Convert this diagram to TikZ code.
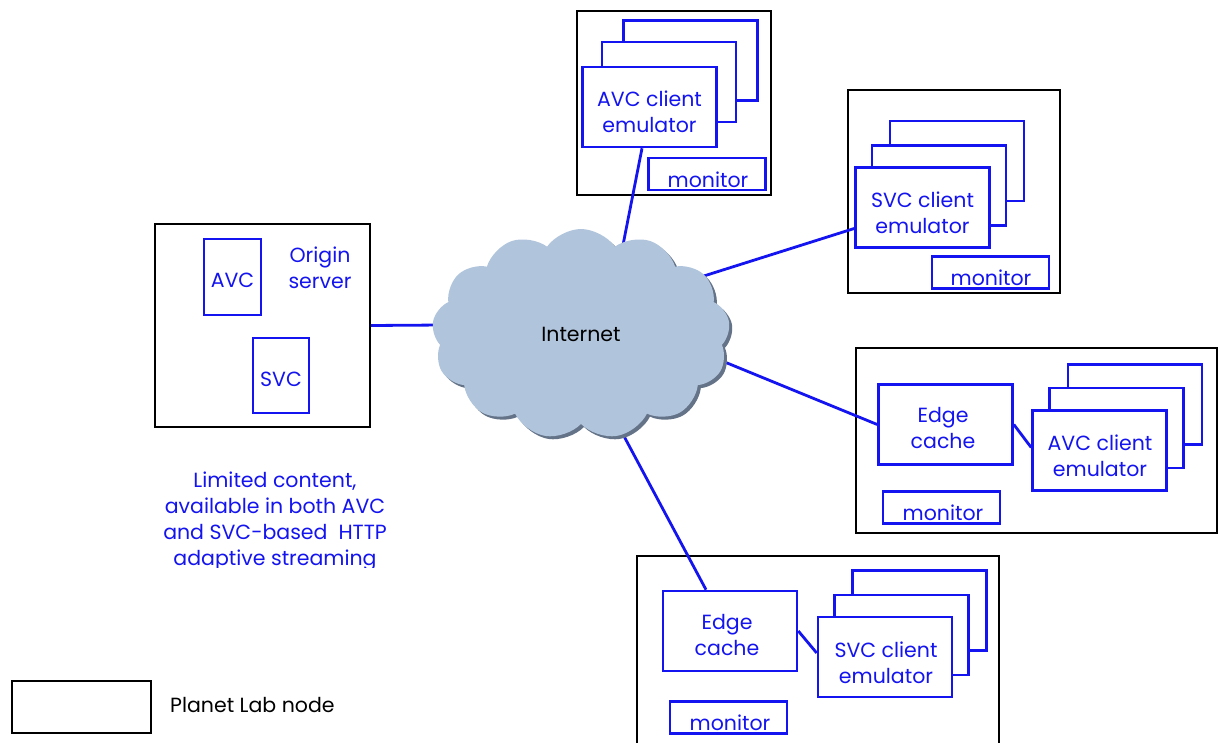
\documentclass[tikz,border=0pt]{standalone}
\usepackage{fontspec}
\setmainfont{Poppins}
\usetikzlibrary{shapes.symbols,shadows,calc}
\definecolor{lb}{RGB}{20,20,240}
\definecolor{cloudfill}{RGB}{176,196,220}
\definecolor{cloudshadow}{RGB}{100,115,135}
\pgfdeclarelayer{background}
\pgfsetlayers{background,main}
\begin{document}
\begin{tikzpicture}[x=1pt,y=-1pt,
  plnode/.style={draw=black, line width=2pt, inner sep=0},
  bbox/.style={draw=lb, line width=2.6pt, fill=white, inner sep=0},
  client/.style={bbox, minimum width=134pt, minimum height=80pt},
  monbox/.style={bbox, minimum width=117pt, minimum height=32pt},
  txt/.style={text=lb, font=\fontsize{20.5}{26}\selectfont, align=center, inner sep=0},
  btxt/.style={text=black, font=\fontsize{20.5}{26}\selectfont, align=center, inner sep=0},
  link/.style={draw=lb, line width=2.8pt}]
\useasboundingbox (0,0) rectangle (1220,743);

\begin{pgfonlayer}{background}
% Planet Lab nodes
\node[plnode, minimum width=194pt, minimum height=184pt] (plavc) at (674,103) {};
\node[plnode, minimum width=212pt, minimum height=203pt] (plsvc) at (954,191.5) {};
\node[plnode, minimum width=215pt, minimum height=203pt] (origin) at (262.5,325.5) {};
\node[plnode, minimum width=361pt, minimum height=185pt] (pledgeavc) at (1036.5,440.5) {};
\node[plnode, minimum width=362pt, minimum height=204pt] (pledgesvc) at (818,658) {};
\node[plnode, minimum width=139pt, minimum height=52pt] (legend) at (81.5,707) {};
\end{pgfonlayer}

% Cloud
\node[cloud, cloud puffs=13, cloud puff arc=110, aspect=1.4, inner sep=0,
  minimum width=298pt, minimum height=210pt, fill=cloudfill, draw=none,
  drop shadow={fill=cloudshadow, shadow xshift=3pt, shadow yshift=-3pt, opacity=1},
  font=\fontsize{20.5}{26}\selectfont] (cloud) at (581,334) {Internet};

% Top AVC client cluster
\node[client] (avcA3) at (690.5,60.5) {};
\node[client] (avcA2) at (669,82) {};
\node[client] (avcA1) at (649.5,107) {};
\node[txt] (avcA1t) at (649.5,112) {AVC client\\emulator};
\node[monbox] (monA) at (707,174) {};
\node[txt] (monAt) at (708,180) {monitor};

% Top SVC client cluster
\node[client] (svcB3) at (957,161) {};
\node[client] (svcB2) at (939,185.5) {};
\node[client] (svcB1) at (922.5,207.5) {};
\node[txt] (svcB1t) at (922.5,213) {SVC client\\emulator};
\node[monbox] (monB) at (990.5,272.5) {};
\node[txt] (monBt) at (991,278) {monitor};

% Origin server
\node[bbox, minimum width=57pt, minimum height=76pt] (avcbox) at (232.5,277) {};
\node[txt] (avcboxt) at (232.5,280) {AVC};
\node[bbox, minimum width=56pt, minimum height=75pt] (svcbox) at (281,375.5) {};
\node[txt] (svcboxt) at (281,379) {SVC};
\node[txt] (origint) at (320,268) {Origin\\server};

% Edge AVC
\node[client] (ecA) at (945.5,424.5) {};
\node[txt] (ecAt) at (943,428) {Edge\\cache};
\node[client] (avcC3) at (1135,404.5) {};
\node[client] (avcC2) at (1116.5,428) {};
\node[client] (avcC1) at (1099.5,450.5) {};
\node[txt] (avcC1t) at (1100,456) {AVC client\\emulator};
\node[monbox] (monC) at (941.5,507.5) {};
\node[txt] (monCt) at (943,513) {monitor};

% Edge SVC
\node[client] (ecS) at (730,631) {};
\node[txt] (ecSt) at (727,635) {Edge\\cache};
\node[client] (svcD3) at (919.5,610.5) {};
\node[client] (svcD2) at (901.5,635) {};
\node[client] (svcD1) at (885,657) {};
\node[txt] (svcD1t) at (886,663) {SVC client\\emulator};
\node[monbox] (monD) at (728.5,717.5) {};
\node[txt] (monDt) at (730,723) {monitor};

% Links
\begin{pgfonlayer}{background}
\draw[link] (origin.east) -- ($(cloud.center)+(-138,-9)$);
\draw[link] ($(avcA1.south)+(-7.5,0)$) -- ($(cloud.center)+(42,-89)$);
\draw[link] ($(svcB1.west)+(0,21)$) -- ($(cloud.center)+(107,-53)$);
\draw[link] (ecA.west) -- ($(cloud.center)+(129,22)$);
\draw[link] ($(ecS.north)+(-24,0)$) -- ($(cloud.center)+(37,91)$);
\end{pgfonlayer}
\draw[link] (ecA.east) -- ($(avcC1.west)+(0,-3)$);
\draw[link] (ecS.east) -- ($(svcD1.west)+(0,-4)$);

% Note text
\begin{scope}
\clip (80,455) rectangle (470,567);
\node[txt] (note) at (275,521) {Limited content,\\available in both AVC\\and SVC-based\ \ HTTP\\adaptive streaming};
\end{scope}

% Legend
\node[btxt, anchor=west] (legendt) at (170,705) {Planet Lab node};
\end{tikzpicture}
\end{document}
